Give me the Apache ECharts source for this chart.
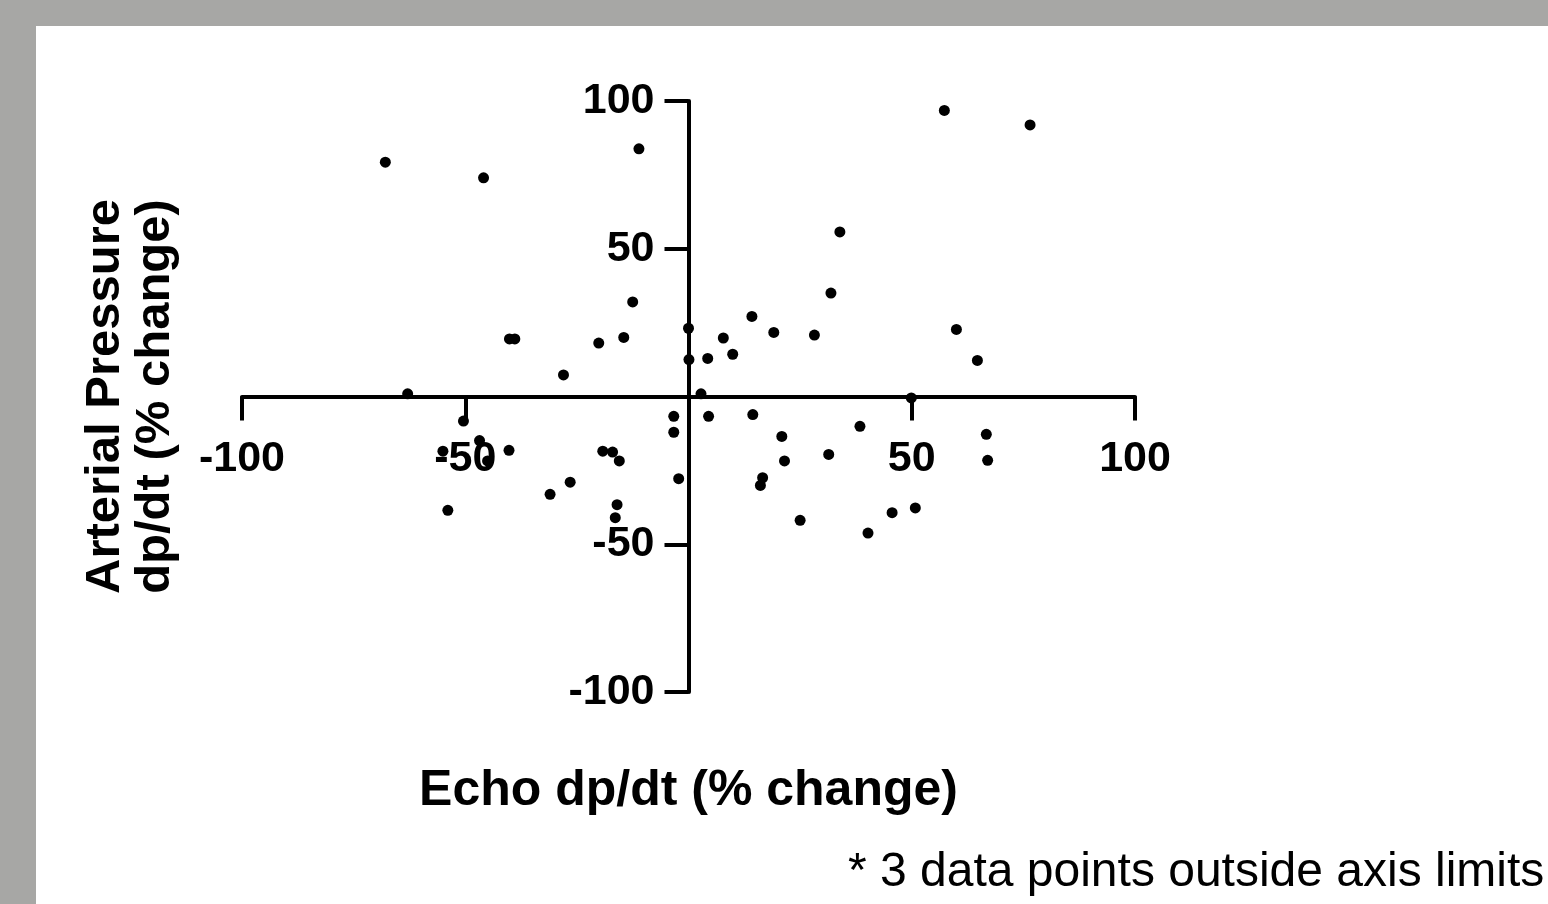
<!DOCTYPE html>
<html>
<head>
<meta charset="utf-8">
<script src="https://cdn.jsdelivr.net/npm/echarts@6/dist/echarts.min.js"></script>
<style>
  html, body { margin: 0; padding: 0; width: 1548px; height: 904px; background: #a7a7a5; overflow: hidden; }
  #chart { position: absolute; left: 36px; top: 26px; width: 1512px; height: 878px; background: #ffffff; }
</style>
</head>
<body>
<div id="chart"></div>
<script>
// Echo dp/dt (% change)
const xValues = [-67.9, -45.9, -11.1, -12.5, 0.0, -40.1, -38.9, -20.1, -14.5, -28.0,
  0.1, 4.3, -62.9, 2.8, 57.3, 76.5, 33.9, 31.9, 14.2, 19.1,
  28.2, 7.8, 9.9, 60.0, 64.7, 49.9, -50.4, -46.8, -55.0, -45.0,
  -40.2, -19.2, -17.0, -15.5, -26.5, -31.0, -16.0, -16.4, -53.9, -3.3,
  -3.3, -2.2, 4.5, 14.4, 20.9, 21.5, 31.4, 38.4, 16.6, 16.1,
  25.0, 40.2, 45.6, 50.8, 66.7, 67.0];
// Arterial Pressure dp/dt (% change)
const yValues = [79.3, 74.0, 83.8, 32.0, 23.1, 19.5, 19.5, 18.1, 20.0, 7.3,
  12.5, 12.9, 0.9, 0.9, 96.8, 91.9, 55.7, 35.0, 27.1, 21.7,
  20.8, 19.8, 14.3, 22.7, 12.2, -0.5, -8.3, -14.9, -18.5, -21.8,
  -18.2, -18.5, -18.8, -21.8, -29.0, -33.1, -36.6, -41.0, -38.5, -6.7,
  -12.1, -27.8, -6.7, -6.1, -13.5, -21.8, -19.6, -10.1, -27.5, -30.1,
  -41.9, -46.2, -39.3, -37.7, -12.8, -21.6];
const xTicks = [-100, -50, 50, 100];
const yTicks = [-100, -50, 50, 100];
const xTitle = 'Echo dp/dt (% change)';
const yTitle = 'Arterial Pressure\ndp/dt (% change)';
const footnote = '* 3 data points outside axis limits';

const points = xValues.map((x, i) => [x, yValues[i]]);
const font = '"Liberation Sans", Arial, Helvetica, sans-serif';

// grid geometry (inside the 1512x878 white panel)
const gridLeft = 206, gridRight = 413, gridTop = 75, gridBottom = 212;
const gridW = 1512 - gridLeft - gridRight;   // 893
const gridH = 878 - gridTop - gridBottom;    // 591
// shift axes so they cross at (0,0)
const xAxisOffset = -gridH * (0 - (-100)) / 200;
const yAxisOffset = -gridW * (0 - (-100)) / 200;

const chart = echarts.init(document.getElementById('chart'), null, { renderer: 'canvas' });
chart.setOption({
  animation: false,
  backgroundColor: '#ffffff',
  grid: { left: gridLeft, right: gridRight, top: gridTop, bottom: gridBottom, containLabel: false, outerBoundsMode: 'none' },
  xAxis: {
    type: 'value', min: -100, max: 100, interval: 50,
    position: 'bottom', offset: xAxisOffset,
    name: xTitle, nameLocation: 'middle', nameGap: 370,
    nameTextStyle: { fontFamily: font, fontWeight: 'bold', fontSize: 50, color: '#000' },
    axisLine: { onZero: false, lineStyle: { color: '#000', width: 4 } },
    axisTick: { show: true, length: 24, lineStyle: { color: '#000', width: 4 } },
    axisLabel: {
      margin: 41, color: '#000', fontFamily: font, fontWeight: 'bold', fontSize: 43,
      formatter: v => (xTicks.indexOf(v) >= 0 ? String(v) : '')
    },
    splitLine: { show: false }
  },
  yAxis: {
    type: 'value', min: -100, max: 100, interval: 50,
    position: 'left', offset: yAxisOffset,
    name: yTitle, nameLocation: 'middle', nameGap: 508, nameRotate: 90,
    nameTextStyle: { fontFamily: font, fontWeight: 'bold', fontSize: 49, color: '#000', lineHeight: 50, align: 'center' },
    axisLine: { onZero: false, lineStyle: { color: '#000', width: 4 } },
    axisTick: { show: true, length: 24, lineStyle: { color: '#000', width: 4 } },
    axisLabel: {
      margin: 34, color: '#000', fontFamily: font, fontWeight: 'bold', fontSize: 43,
      formatter: v => (yTicks.indexOf(v) >= 0 ? String(v) : '')
    },
    splitLine: { show: false }
  },
  graphic: [{
    type: 'text', left: 812, top: 823,
    style: { text: footnote, fill: '#000', font: '48px ' + font }
  }],
  series: [{
    type: 'scatter', data: points, symbol: 'circle', symbolSize: 11,
    itemStyle: { color: '#000', opacity: 1 }, z: 5
  }]
});
</script>
</body>
</html>
